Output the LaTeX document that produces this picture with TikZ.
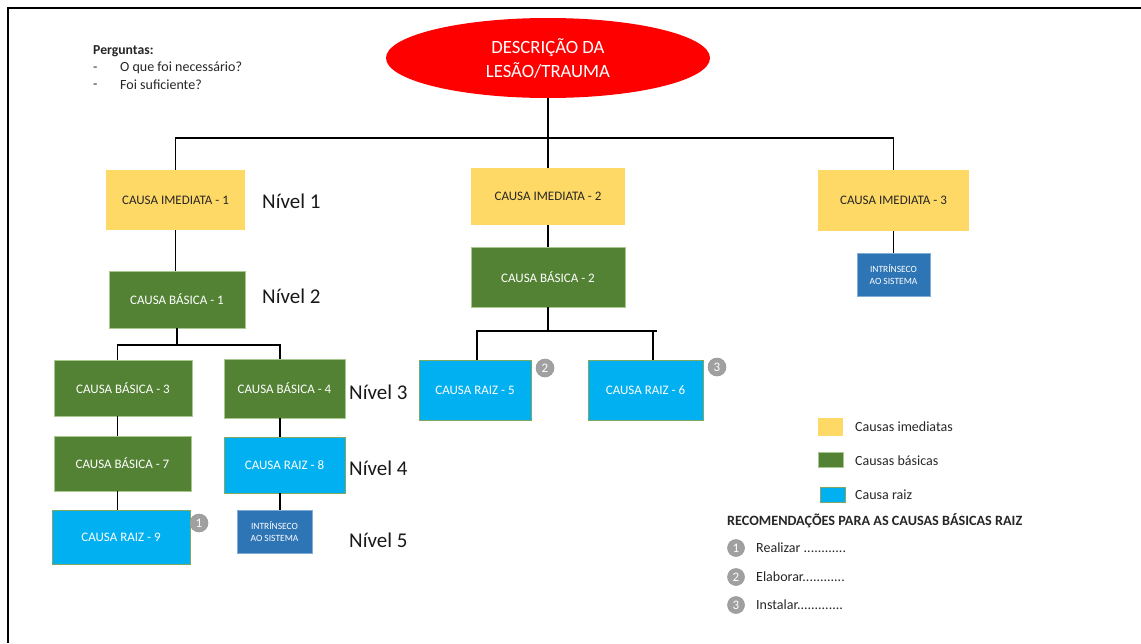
\documentclass[tikz,border=0pt]{standalone}
\usepackage{fontspec}
\setmainfont{Carlito}
\usetikzlibrary{shapes.geometric}
\definecolor{cyellow}{HTML}{FFD966}
\definecolor{cgreen}{HTML}{548235}
\definecolor{cgreenb}{HTML}{A9C88E}
\definecolor{cblue}{HTML}{00B0F0}
\definecolor{cblueb}{HTML}{7FA860}
\definecolor{cdblue}{HTML}{2E75B6}
\definecolor{cbadge}{HTML}{A0A0A0}
\tikzset{
 box/.style={rectangle, inner sep=0pt, align=center, font=\fontsize{13}{15}\selectfont},
 imed/.style={box, fill=cyellow, text=black!85},
 basic/.style={box, fill=cgreen, draw=cgreenb, line width=0.8pt, text=white},
 raiz/.style={box, fill=cblue, draw=cblueb, line width=0.8pt, text=white},
 intr/.style={box, fill=cdblue, draw=cdblue!60, line width=0.6pt, text=white, font=\fontsize{9.5}{12}\selectfont},
 badge/.style={circle, fill=cbadge, draw=gray!80, line width=0.6pt, minimum size=18pt, inner sep=0pt, text=white, font=\fontsize{13}{13}\selectfont},
 lbadge/.style={badge, minimum size=17pt},
 level/.style={anchor=west, inner sep=0pt, font=\fontsize{21}{23}\selectfont, text=black!90},
 conn/.style={line width=1.6pt, black},
 legtxt/.style={anchor=west, inner sep=0pt, font=\fontsize{14}{16}\selectfont, text=black!85},
 legsq/.style={rectangle, inner sep=0pt},
}
\begin{document}
\begin{tikzpicture}[x=1pt, y=-1pt]
\useasboundingbox (0,0) rectangle (1141,643);
% frame
\draw[line width=2.5pt] (8,643) -- (8,8) -- (1141,8);

% questions
\node[legtxt, font=\bfseries\fontsize{13.7}{16}\selectfont] (q0) at (93,51) {Perguntas:};
\node[legtxt] (q1d) at (93,69) {-};
\node[legtxt] (q1) at (120,68) {O que foi necessário?};
\node[legtxt] (q2d) at (93,86) {-};
\node[legtxt] (q2) at (120,85) {Foi suficiente?};

% top ellipse
\node[ellipse, fill=red, minimum width=324pt, minimum height=80pt, inner sep=0pt, text=white, align=center, font=\fontsize{18.7}{24}\selectfont] (top) at (548,58) {DESCRIÇÃO DA\\LESÃO/TRAUMA};

% level 1
\node[imed, minimum width=139pt, minimum height=60pt] (ci1) at (175.5,200) {CAUSA IMEDIATA - 1};
\node[imed, minimum width=154pt, minimum height=57pt] (ci2) at (548,196.5) {CAUSA IMEDIATA - 2};
\node[imed, minimum width=151pt, minimum height=61pt] (ci3) at (893.5,200.5) {CAUSA IMEDIATA - 3};
\node[intr, minimum width=73pt, minimum height=43pt] (in3) at (893.5,274.5) {INTRÍNSECO\\AO SISTEMA};

% level 2
\node[basic, minimum width=136pt, minimum height=57pt] (cb1) at (177,299.5) {CAUSA BÁSICA - 1};
\node[basic, minimum width=154pt, minimum height=60pt] (cb2) at (548,277) {CAUSA BÁSICA - 2};

% level 3+
\node[basic, minimum width=138pt, minimum height=56pt] (cb3) at (123,388) {CAUSA BÁSICA - 3};
\node[basic, minimum width=121pt, minimum height=59pt] (cb4) at (284.5,388.5) {CAUSA BÁSICA - 4};
\node[basic, minimum width=137pt, minimum height=55pt] (cb7) at (122.5,463.5) {CAUSA BÁSICA - 7};
\node[raiz, minimum width=121pt, minimum height=56pt] (cr8) at (284.5,465) {CAUSA RAIZ - 8};
\node[raiz, minimum width=138pt, minimum height=54pt] (cr9) at (121,537) {CAUSA RAIZ - 9};
\node[intr, minimum width=75pt, minimum height=43pt] (in5) at (274.5,531.5) {INTRÍNSECO\\AO SISTEMA};
\node[raiz, minimum width=112pt, minimum height=60pt] (cr5) at (475,390) {CAUSA RAIZ - 5};
\node[raiz, minimum width=115pt, minimum height=60pt] (cr6) at (645.5,390) {CAUSA RAIZ - 6};

% badges
\node[badge] (b1) at (199,523) {1};
\node[badge] (b2) at (545,368) {2};
\node[badge] (b3) at (717,367) {3};

% level labels
\node[level] (n1) at (262,201) {Nível 1};
\node[level] (n2) at (262,296) {Nível 2};
\node[level] (n3) at (349,392) {Nível 3};
\node[level] (n4) at (349,468) {Nível 4};
\node[level] (n5) at (349,540) {Nível 5};

% connectors
\coordinate (j0) at (548,138);
\draw[conn] (top.south) -- (j0);
\draw[conn] (ci1.north) |- (j0) -| (ci3.north);
\draw[conn] (j0) -- (ci2.north);
\draw[conn] (ci1.south) -- (ci1.south |- cb1.north);
\draw[conn] (ci2.south) -- (cb2.north);
\draw[conn] (ci3.south) -- (in3.north);

\coordinate (j1) at (177,345);
\coordinate (d3) at (117.5,345);
\coordinate (d4) at (280,345);
\draw[conn] (cb1.south) -- (j1);
\draw[conn] (d3 |- cb3.north) -- (d3) -- (d4) -- (d4 |- cb4.north);
\draw[conn] (cb3.south -| d3) -- (cb7.north -| d3);
\draw[conn] (cb7.south -| d3) -- (cr9.north -| d3);
\draw[conn] (cb4.south -| d4) -- (cr8.north -| d4);
\draw[conn] (cr8.south -| d4) -- (in5.north -| d4);

\coordinate (j2) at (548,331);
\coordinate (d5) at (477,331);
\coordinate (d6) at (653,331);
\coordinate (d6e) at (657,331);
\draw[conn] (cb2.south) -- (j2);
\draw[conn] (d5 |- cr5.north) -- (d5) -- (d6e);
\draw[conn] (d6) -- (d6 |- cr6.north);

% legend
\node[legsq, fill=cyellow, minimum width=25pt, minimum height=18pt] (ly) at (830.5,427) {};
\node[legsq, fill=cgreen, draw=cgreenb, line width=0.6pt, minimum width=25pt, minimum height=15pt] (lg) at (830.5,459.5) {};
\node[legsq, fill=cblue, draw=cblueb, line width=0.6pt, minimum width=25pt, minimum height=15pt] (lb) at (832.5,494.5) {};
\node[legtxt] (lyt) at (855,427) {Causas imediatas};
\node[legtxt] (lgt) at (855,461) {Causas básicas};
\node[legtxt] (lbt) at (855,495) {Causa raiz};

\node[legtxt, font=\bfseries\fontsize{14.2}{16}\selectfont] (rec) at (727,521) {RECOMENDAÇÕES PARA AS CAUSAS BÁSICAS RAIZ};
\node[lbadge] (r1) at (736,548) {1};
\node[lbadge] (r2) at (736,577) {2};
\node[lbadge] (r3) at (736,605) {3};
\node[legtxt] (r1t) at (756,548) {Realizar ............};
\node[legtxt] (r2t) at (756,577) {Elaborar............};
\node[legtxt] (r3t) at (756,605) {Instalar.............};
\end{tikzpicture}
\end{document}
